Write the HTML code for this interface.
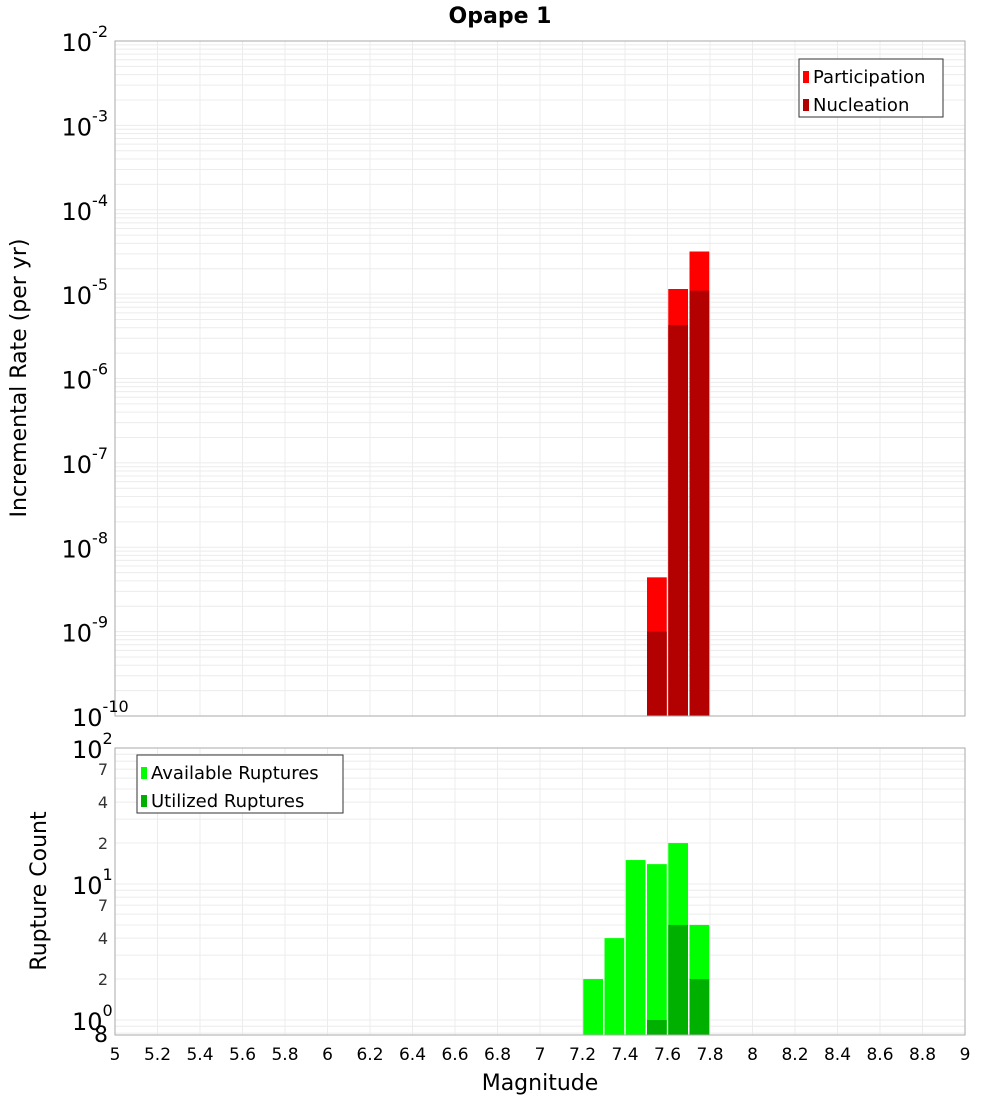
<!DOCTYPE html>
<html><head><meta charset="utf-8"><style>
body{margin:0;background:#fff;font-family:"Liberation Sans","DejaVu Sans",sans-serif}
svg text{font-family:"DejaVu Sans","Liberation Sans",sans-serif}
</style></head><body>
<svg id="c" width="1000" height="1100" xmlns="http://www.w3.org/2000/svg"></svg>
<script>
const magBins=[7.55,7.65,7.75];
const participation=[4.4e-9,1.15e-5,3.2e-5];
const nucleation=[1e-9,4.3e-6,1.1e-5];
const countBins=[7.25,7.35,7.45,7.55,7.65,7.75];
const available=[2,4,15,14,20,5];
const utilized=[0,0,0,1,5,2];
const xTicks=[5,5.2,5.4,5.6,5.8,6,6.2,6.4,6.6,6.8,7,7.2,7.4,7.6,7.8,8,8.2,8.4,8.6,8.8,9];
const topExps=[-2,-3,-4,-5,-6,-7,-8,-9,-10];
const botMinor=[7,4,2];

const NS="http://www.w3.org/2000/svg",svg=document.getElementById('c');
function el(t,a,p){const e=document.createElementNS(NS,t);for(const k in a)e.setAttribute(k,a[k]);(p||svg).appendChild(e);return e;}
const L=115,R=965;
const X=v=>L+(v-5)/4*(R-L);
const tT=41,tB=716,Yt=v=>tT+(-2-Math.log10(v))*(tB-tT)/8;
const bT=748,D=136,Yb=v=>bT+(2-Math.log10(v))*D,bB=1035;

// top grid
for(let e=-10;e<-2;e++)for(let m=1;m<10;m++){const y=Yt(m*Math.pow(10,e));if(y<tT||y>tB)continue;
 const g=el('line',{x1:L,x2:R,y1:y,y2:y,stroke:'#ececec','stroke-width':1});}
for(let e=-1;e<2;e++)for(let m=1;m<10;m++){const y=Yb(m*Math.pow(10,e));if(y<bT||y>bB)continue;
 const g=el('line',{x1:L,x2:R,y1:y,y2:y,stroke:'#ececec','stroke-width':1});}
xTicks.forEach(v=>{[[tT,tB],[bT,bB]].forEach(([a,b])=>{const g=el('line',{x1:X(v),x2:X(v),y1:a,y2:b,stroke:'#ececec'});});});

// top bars
const bw=(X(5.1)-X(5))-1.5;
magBins.forEach((m,i)=>{
 const p=el('rect',{x:X(m)-bw/2,y:Yt(participation[i]),width:bw,height:tB-Yt(participation[i]),fill:'#ff0000'});
 
 const n=el('rect',{x:X(m)-bw/2,y:Yt(nucleation[i]),width:bw,height:tB-Yt(nucleation[i]),fill:'#b30000'});
 
});
countBins.forEach((m,i)=>{
 const a=el('rect',{x:X(m)-bw/2,y:Yb(available[i]),width:bw,height:bB-Yb(available[i]),fill:'#00ff00'});
 
 if(utilized[i]>0){const u=el('rect',{x:X(m)-bw/2,y:Yb(utilized[i]),width:bw,height:bB-Yb(utilized[i]),fill:'#00b000'});
 }
});

// frames
el('rect',{x:L,y:tT,width:R-L,height:tB-tT,fill:'none',stroke:'#aaa',});
el('rect',{x:L,y:bT,width:R-L,height:bB-bT,fill:'none',stroke:'#aaa',});

// top y labels
topExps.forEach(e=>{const y=Yt(Math.pow(10,e));
 const t=el('text',{x:108,y:y+10,'font-size':24,'text-anchor':'end'});
 t.innerHTML='10<tspan dy="-14" font-size="16">'+e+'</tspan>';
 if(e===-10){t.setAttribute('x',72);t.setAttribute('text-anchor','start');}});
// bottom y labels
[2,1,0].forEach(e=>{const y=Yb(Math.pow(10,e));
 const t=el('text',{x:72,y:y+10,'font-size':24});
 t.innerHTML='10<tspan dy="-14" font-size="16">'+e+'</tspan>';
 if(e<2)botMinor.forEach(m=>{const mt=el('text',{x:108,y:Yb(m*Math.pow(10,e))+6,'font-size':16,'text-anchor':'end',fill:'#333'});mt.textContent=m;});});
{const t=el('text',{x:108,y:1042,'font-size':22,'text-anchor':'end'});t.textContent='8';}
// x labels
xTicks.forEach(v=>{const t=el('text',{x:X(v),y:1060,'font-size':17,'text-anchor':'middle'});t.textContent=String(v);});

el('text',{x:540,y:1090,'font-size':22,'text-anchor':'middle',}).textContent='Magnitude';
el('text',{x:500,y:23,'font-size':22,'font-weight':'bold','text-anchor':'middle',}).textContent='Opape 1';
el('text',{x:0,y:0,'font-size':22,'text-anchor':'middle',transform:'translate(26,378) rotate(-90)',}).textContent='Incremental Rate (per yr)';
el('text',{x:0,y:0,'font-size':22,'text-anchor':'middle',transform:'translate(46,891) rotate(-90)',}).textContent='Rupture Count';

// legends
function legend(x,y,w,items,name){const g=el('g',{});
 el('rect',{x:x,y:y,width:w,height:58,fill:'#fff',stroke:'#333'},g);
 items.forEach((it,i)=>{el('rect',{x:x+4,y:y+12+i*28,width:6,height:12,fill:it[1]},g);
 const t=el('text',{x:x+14,y:y+24+i*28,'font-size':18},g);t.textContent=it[0];});}
legend(799,59,144,[['Participation','#ff0000'],['Nucleation','#b30000']],'top-legend');
legend(137,755,206,[['Available Ruptures','#00ff00'],['Utilized Ruptures','#00b000']],'bottom-legend');
</script>
</body></html>
